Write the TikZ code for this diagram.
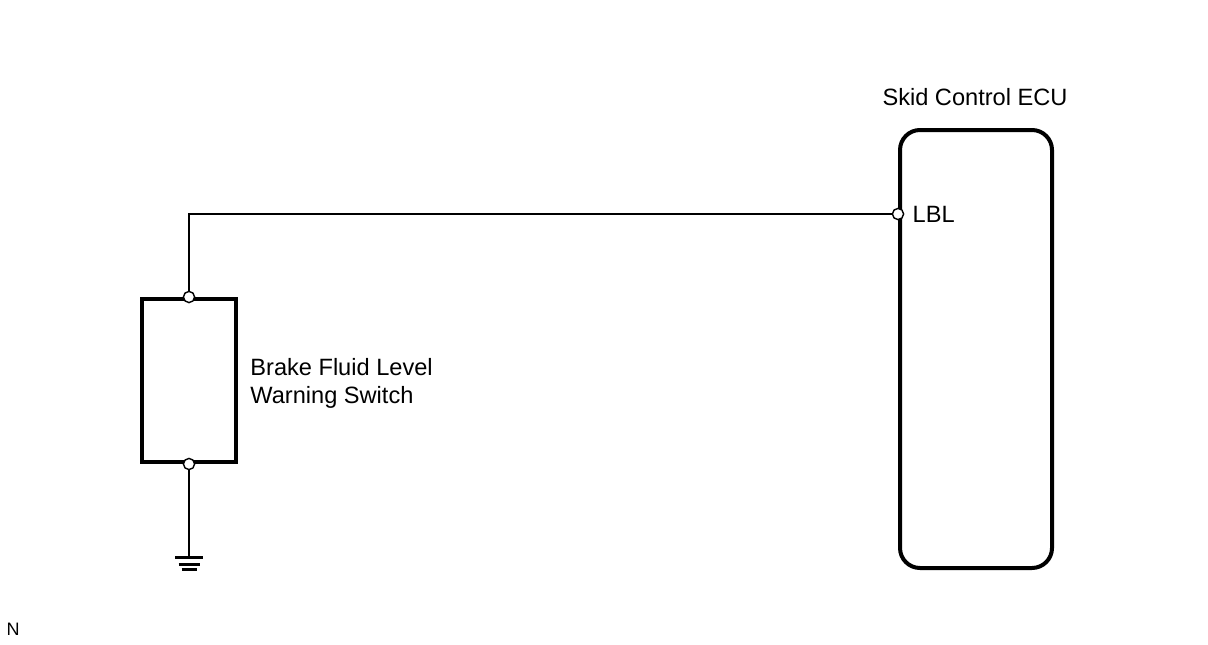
\documentclass[tikz,border=0pt]{standalone}
\usepackage{fontspec}
\setmainfont{Liberation Sans}
\usetikzlibrary{positioning}
\usetikzlibrary{calc}
\tikzset{wire/.style={line width=1pt}}
\tikzset{part/.style={draw,line width=2pt,inner sep=0pt}}
\tikzset{term/.style={circle,draw,fill=white,line width=0.7pt,inner sep=0pt,minimum size=5.6pt}}
\tikzset{txt/.style={inner sep=0pt,font=\fontsize{11.8}{14}\selectfont}}

\begin{document}
\begin{tikzpicture}[x=0.5pt,y=0.5pt]
\useasboundingbox (0,0) rectangle (1208,644);

\node[part,minimum width=47pt,minimum height=81.5pt] (sw) at (189,263.5) {};
\node[part,rounded corners=10pt,minimum width=76pt,minimum height=219pt] (ecu) at (976,295) {};

\coordinate (bend) at (sw.north |- 0,430);
\coordinate (gnd) at ($(sw.south)+(0,-93)$);

\node[term] (swtop) at (sw.north) {};
\node[term] (swbot) at (sw.south) {};
\node[term] (lbl) at (ecu.west |- bend) {};

\draw[wire] (swtop) -- (bend) -- (lbl);
\draw[wire] (swbot) -- (gnd);

% ground
\draw[line width=1.5pt] ($(gnd)+(-14,0)$) -- ($(gnd)+(14,0)$);
\draw[line width=1.5pt] ($(gnd)+(-10.5,-7)$) -- ($(gnd)+(10.5,-7)$);
\draw[line width=1.5pt] ($(gnd)+(-7.5,-12)$) -- ($(gnd)+(7.5,-12)$);

\node[txt] (ecuname) at (975,547) {Skid Control ECU};
\node[txt,right=4pt of lbl] (lbltxt) {LBL};
\node[txt,align=left,anchor=west] (swname) at (250,261) {Brake Fluid Level\\Warning Switch};
\node[inner sep=0pt,font=\fontsize{9}{10}\selectfont] (mark) at (13,15) {N};

\end{tikzpicture}
\end{document}
